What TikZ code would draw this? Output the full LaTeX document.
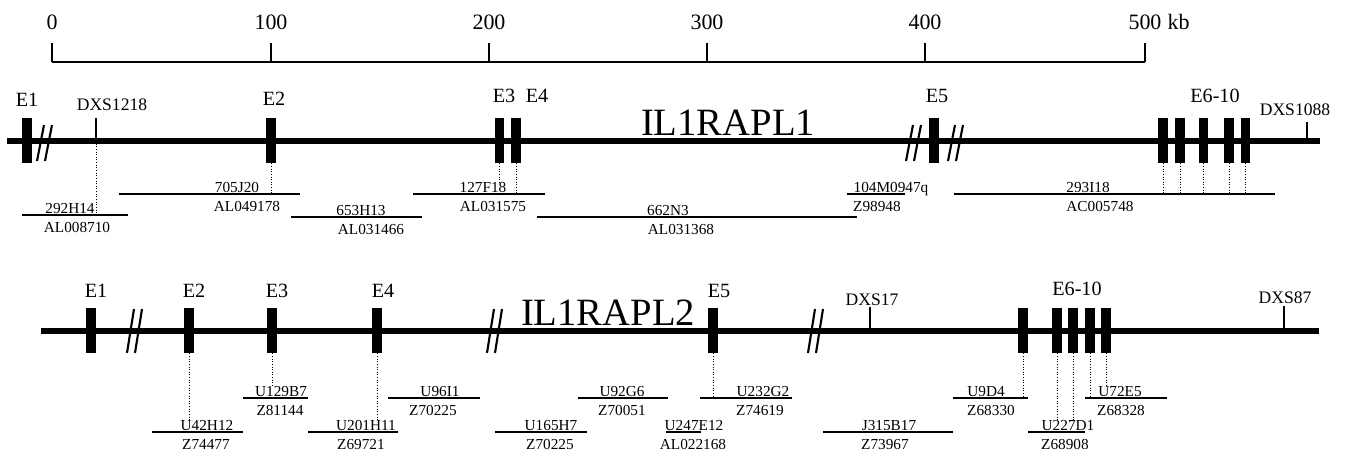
\documentclass[tikz,border=0pt]{standalone}
\usepackage{fontspec}
\setmainfont{Liberation Serif}
\newcommand{\clonebar}[8]{%
  \coordinate (#1a) at (#3,#2);
  \coordinate (#1b) at (#4,#2);
  \draw[clone] (#1a) -- (#1b);
  \node[cl] (#1t) at (#6,#2-1.5) {#5};
  \node[cl] (#1u) at (#8,#2+17) {#7};
}
\begin{document}
\begin{tikzpicture}[x=0.02cm,y=-0.02cm,
  gene/.style={line width=3.4pt},
  scalebar/.style={line width=0.8pt},
  clone/.style={line width=0.75pt},
  exon/.style={fill=black,draw=none,minimum width=0.19cm,minimum height=0.9cm,inner sep=0pt},
  dotline/.style={densely dotted,line width=0.5pt},
  tickline/.style={line width=0.6pt},
  lbl/.style={font=\fontsize{11.5}{13}\selectfont,inner sep=0pt,anchor=base},
  num/.style={font=\fontsize{12.5}{14}\selectfont,inner sep=0pt,anchor=base},
  mk/.style={font=\fontsize{10}{12}\selectfont,inner sep=0pt,anchor=base},
  cl/.style={font=\fontsize{8.7}{10}\selectfont,inner sep=0pt,anchor=base},
  big/.style={font=\fontsize{22}{26}\selectfont,inner sep=0pt,anchor=base},
  brk/.pic={\draw[line width=1.2pt] (-8,18) -- (-1,-18); \draw[line width=1.2pt] (0,18) -- (7,-18);},
  brkb/.pic={\draw[line width=1.2pt] (-8,22) -- (-1,-22); \draw[line width=1.2pt] (0,22) -- (7,-22);}
]
\useasboundingbox (0,0) rectangle (1350,450);

% ---------- scale bar ----------
\coordinate (t0) at (52,62);
\coordinate (t1) at (271,62);
\coordinate (t2) at (489,62);
\coordinate (t3) at (707,62);
\coordinate (t4) at (925,62);
\coordinate (t5) at (1145,62);
\draw[scalebar] (t0) -- (t5);
\foreach \t in {t0,t1,t2,t3,t4,t5} {\draw[scalebar] (\t) -- ++(0,-19);}
\node[num] (n0) at (52,29) {0};
\node[num] (n1) at (271,29) {100};
\node[num] (n2) at (489,29) {200};
\node[num] (n3) at (707,29) {300};
\node[num] (n4) at (925,29) {400};
\node[num] (n5) at (1145,29) {500};
\node[num,anchor=base west] (kb) at (n5.base east) {\hspace{0.25em}kb};

% ---------- IL1RAPL1 ----------
\coordinate (g1s) at (7,141);
\coordinate (g1e) at (1320,141);
\draw[gene] (g1s) -- (g1e);
\pic at (45,143) {brk};
\pic at (914,143) {brk};
\pic at (956,143) {brk};
\node[exon] (e1) at (27,140.5) {};
\node[exon] (e2) at (271,140.5) {};
\node[exon] (e3) at (499.5,140.5) {};
\node[exon] (e4) at (516,140.5) {};
\node[exon] (e5) at (934,140.5) {};
\node[exon] (e6) at (1163,140.5) {};
\node[exon] (e7) at (1180,140.5) {};
\node[exon] (e8) at (1203.5,140.5) {};
\node[exon] (e9) at (1229,140.5) {};
\node[exon] (e10) at (1245.5,140.5) {};

\node[lbl] (le1) at (27,106) {E1};
\node[lbl] (le2) at (274,105) {E2};
\node[lbl] (le3) at (504,102) {E3};
\node[lbl] (le4) at (537,102) {E4};
\node[lbl] (le5) at (937,102) {E5};
\node[lbl] (le6) at (1215,102) {E6-10};
\node[big] (gn1) at (728,135) {IL1RAPL1};
\node[mk] (dxs1218) at (112,110) {DXS1218};
\node[mk] (dxs1088) at (1295,115) {DXS1088};
\coordinate (m1t) at (96,118);
\coordinate (m1) at (96,141);
\draw[tickline] (m1t) -- (m1);
\coordinate (m2t) at (1307,122);
\coordinate (m2) at (1307,141);
\draw[tickline] (m2t) -- (m2);

\clonebar{A}{215}{22}{128}{292H14}{70}{AL008710}{77}
\clonebar{B}{194}{119}{300}{705J20}{237}{AL049178}{247}
\clonebar{C}{217}{291}{422}{653H13}{361}{AL031466}{371}
\clonebar{D}{194}{413}{545}{127F18}{483}{AL031575}{493}
\clonebar{E}{217}{537}{857}{662N3}{668}{AL031368}{681}
\clonebar{F}{194}{847}{905}{104M0947q}{891}{Z98948}{877}
\clonebar{G}{194}{954}{1275}{293I18}{1088}{AC005748}{1100}

\draw[dotline] (m1) -- (m1 |- Aa);
\draw[dotline] (e2.south) -- (e2.south |- Ba);
\draw[dotline] (e3.south) -- (e3.south |- Dt.north);
\draw[dotline] (e4.south) -- (e4.south |- Da);
\foreach \e in {e6,e7,e8,e9,e10} {\draw[dotline] (\e.south) -- (\e.south |- Ga);}

% ---------- IL1RAPL2 ----------
\coordinate (g2s) at (41,331);
\coordinate (g2e) at (1319,331);
\draw[gene] (g2s) -- (g2e);
\pic at (135,331) {brkb};
\pic at (495,331) {brkb};
\pic at (816,331) {brkb};
\node[exon] (b1) at (91,330.5) {};
\node[exon] (b2) at (189,330.5) {};
\node[exon] (b3) at (272,330.5) {};
\node[exon] (b4) at (377,330.5) {};
\node[exon] (b5) at (713,330.5) {};
\node[exon] (b6) at (1023,330.5) {};
\node[exon] (b7) at (1057,330.5) {};
\node[exon] (b8) at (1073,330.5) {};
\node[exon] (b9) at (1090,330.5) {};
\node[exon] (b10) at (1106,330.5) {};

\node[lbl] (lb1) at (96,297) {E1};
\node[lbl] (lb2) at (194,297) {E2};
\node[lbl] (lb3) at (277,297) {E3};
\node[lbl] (lb4) at (383,297) {E4};
\node[lbl] (lb5) at (719,297) {E5};
\node[lbl] (lb6) at (1077,295) {E6-10};
\node[big] (gn2) at (608,325) {IL1RAPL2};
\node[mk] (dxs17) at (872,305) {DXS17};
\node[mk] (dxs87) at (1285,303) {DXS87};
\coordinate (m3t) at (870,307);
\coordinate (m3) at (870,331);
\draw[tickline] (m3t) -- (m3);
\coordinate (m4t) at (1284,306);
\coordinate (m4) at (1284,331);
\draw[tickline] (m4t) -- (m4);

\clonebar{H}{432}{152}{243}{U42H12}{207}{Z74477}{206}
\clonebar{I}{398}{243}{308}{U129B7}{281}{Z81144}{280}
\clonebar{J}{432}{308}{398}{U201H11}{366}{Z69721}{361}
\clonebar{K}{398}{388}{480}{U96I1}{440}{Z70225}{433}
\clonebar{L}{432}{495}{587}{U165H7}{551}{Z70225}{550}
\clonebar{M}{398}{578}{668}{U92G6}{622}{Z70051}{622}
\clonebar{N}{432}{666}{701}{U247E12}{694}{AL022168}{693}
\clonebar{O}{398}{700}{792}{U232G2}{763}{Z74619}{760}
\clonebar{P}{432}{823}{953}{J315B17}{889}{Z73967}{885}
\clonebar{Q}{398}{953}{1028}{U9D4}{986}{Z68330}{991}
\clonebar{R}{432}{1028}{1085}{U227D1}{1068}{Z68908}{1065}
\clonebar{S}{398}{1085}{1167}{U72E5}{1120}{Z68328}{1121}

\draw[dotline] (b2.south) -- (b2.south |- Ht.north);
\draw[dotline] (b3.south) -- (b3.south |- It.north);
\draw[dotline] (b4.south) -- (b4.south |- Jt.north);
\draw[dotline] (b5.south) -- (b5.south |- Oa);
\draw[dotline] (b6.south) -- (b6.south |- Qa);
\draw[dotline] (b7.south) -- (b7.south |- Rt.north);
\draw[dotline] (b8.south) -- (b8.south |- Rt.north);
\draw[dotline] (b9.south) -- (b9.south |- Sa);
\draw[dotline] (b10.south) -- (b10.south |- St.north);
\end{tikzpicture}
\end{document}
